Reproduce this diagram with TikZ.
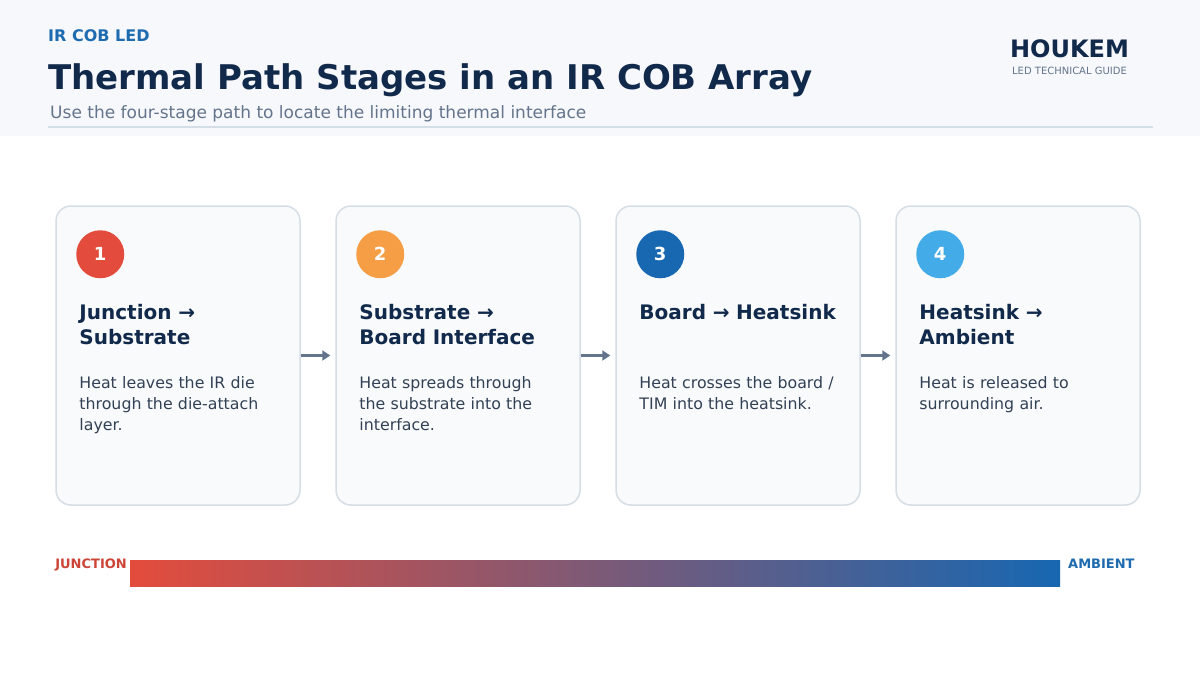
\documentclass[tikz,border=0pt]{standalone}
\usepackage{fontspec}
\setmainfont{DejaVu Sans}
\usetikzlibrary{arrows.meta,positioning}

\definecolor{ink}{HTML}{11294A}
\definecolor{body}{HTML}{334155}
\definecolor{muted}{HTML}{64748B}
\definecolor{rule}{HTML}{D5DEE6}
\definecolor{band}{HTML}{F6F8FC}
\definecolor{cardfill}{HTML}{F8FAFC}
\definecolor{hot}{HTML}{E34C3C}
\definecolor{warm}{HTML}{F59E45}
\definecolor{deep}{HTML}{1767B1}
\definecolor{sky}{HTML}{43ABE8}
\definecolor{tagblue}{HTML}{1E6BB0}

\begin{document}
\begin{tikzpicture}[x=1pt,y=-1pt,
  card/.style={draw=rule,line width=1.5pt,fill=cardfill,rounded corners=15pt,minimum width=244pt,minimum height=299pt,inner sep=0pt},
  badge/.style={circle,minimum size=48pt,inner sep=0pt,text=white,font=\bfseries\fontsize{18}{18}\selectfont},
  head/.style={anchor=north west,inner sep=0pt,text width=220pt,align=left,text=ink,font=\bfseries\fontsize{20}{25}\selectfont},
  note/.style={anchor=north west,inner sep=0pt,text width=215pt,align=left,text=body,font=\fontsize{15.8}{21}\selectfont},
  flow/.style={draw=muted,line width=3pt,-{Triangle[length=8pt,width=10pt]},shorten >=5pt}]
\def\cy{355.5};

\useasboundingbox (0,0) rectangle (1200,675);
\fill[white] (0,0) rectangle (1200,675);
\fill[band] (0,0) rectangle (1200,136);
\draw[rule,line width=2pt] (48,127) -- (1153,127);

% header
\node[anchor=base west,inner sep=0pt,text=tagblue,font=\bfseries\fontsize{16}{16}\selectfont] (tag) at (48,41) {IR COB LED};
\node[anchor=base west,inner sep=0pt,text=ink,font=\bfseries\fontsize{34}{34}\selectfont] (title) at (48,89) {Thermal Path Stages in an IR COB Array};
\node[anchor=base west,inner sep=0pt,text=muted,font=\fontsize{17}{17}\selectfont] (subtitle) at (50,118) {Use the four-stage path to locate the limiting thermal interface};
\node[anchor=base,inner sep=0pt,text=ink,font=\bfseries\fontsize{24}{24}\selectfont] (brand) at (1069.5,57) {HOUKEM};
\node[anchor=base,inner sep=0pt,text=muted,font=\fontsize{10}{10}\selectfont] (guide) at (1069.5,74) {LED TECHNICAL GUIDE};

% cards
\node[card] (card1) at (178,\cy) {};
\node[card] (card2) at (458,\cy) {};
\node[card] (card3) at (738,\cy) {};
\node[card] (card4) at (1018,\cy) {};

\node[badge,fill=hot] (n1) at ([xshift=45pt,yshift=-49pt]card1.north west) {1};
\node[badge,fill=warm] (n2) at ([xshift=45pt,yshift=-49pt]card2.north west) {2};
\node[badge,fill=deep] (n3) at ([xshift=45pt,yshift=-49pt]card3.north west) {3};
\node[badge,fill=sky] (n4) at ([xshift=45pt,yshift=-49pt]card4.north west) {4};

\node[head] (h1) at ([xshift=24pt,yshift=-99pt]card1.north west) {Junction →\\ Substrate};
\node[head] (h2) at ([xshift=24pt,yshift=-99pt]card2.north west) {Substrate →\\ Board Interface};
\node[head] (h3) at ([xshift=24pt,yshift=-99pt]card3.north west) {Board → Heatsink};
\node[head] (h4) at ([xshift=24pt,yshift=-99pt]card4.north west) {Heatsink →\\ Ambient};

\node[note] (t1) at ([xshift=24pt,yshift=-171pt]card1.north west) {Heat leaves the IR die\\ through the die-attach\\ layer.};
\node[note] (t2) at ([xshift=24pt,yshift=-171pt]card2.north west) {Heat spreads through\\ the substrate into the\\ interface.};
\node[note] (t3) at ([xshift=24pt,yshift=-171pt]card3.north west) {Heat crosses the board /\\ TIM into the heatsink.};
\node[note] (t4) at ([xshift=24pt,yshift=-171pt]card4.north west) {Heat is released to\\ surrounding air.};

\draw[flow] (card1.east) -- (card2.west);
\draw[flow] (card2.east) -- (card3.west);
\draw[flow] (card3.east) -- (card4.west);

% gradient scale
\shade[left color=hot,right color=deep] (130,560) rectangle (1060,586);
\node[anchor=base east,inner sep=0pt,text=hot!90!black,font=\bfseries\fontsize{13}{13}\selectfont] (hotlbl) at (127,568) {JUNCTION};
\node[anchor=base west,inner sep=0pt,text=tagblue,font=\bfseries\fontsize{13}{13}\selectfont] (coldlbl) at (1068,568) {AMBIENT};

\end{tikzpicture}
\end{document}
